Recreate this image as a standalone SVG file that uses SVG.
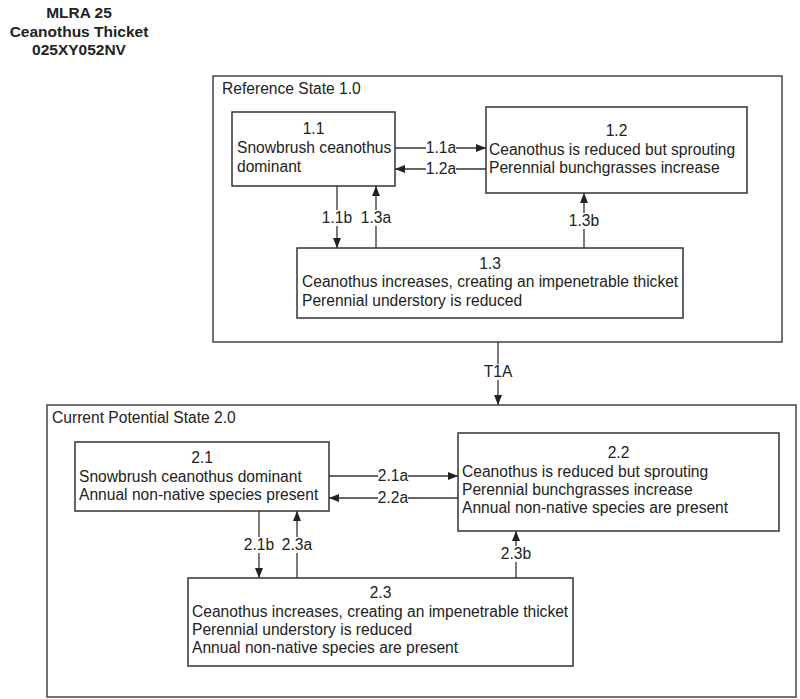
<svg xmlns="http://www.w3.org/2000/svg" width="800" height="699" viewBox="0 0 800 699">
<style>
text{font-family:"Liberation Sans",Arial,sans-serif;font-size:15.6px;fill:#222}
.title{font-weight:bold;text-anchor:middle;font-size:15.5px}
.c{text-anchor:middle}
.box{fill:#fff;stroke:#333;stroke-width:1.5}
.state{fill:none;stroke:#444;stroke-width:1.5}
.ln{stroke:#333;stroke-width:1.3;fill:none}
.lbl{text-anchor:middle}
.bg{fill:#fff}
</style>
<defs>
<marker id="ah" markerUnits="userSpaceOnUse" markerWidth="11" markerHeight="9" refX="10" refY="4" orient="auto">
<path d="M0,0 L10,4 L0,8 z" fill="#222"/>
</marker>
</defs>
<rect width="800" height="699" fill="#fff"/>
<g id="title">
<text class="title" x="79" y="18">MLRA 25</text>
<text class="title" x="79" y="37">Ceanothus Thicket</text>
<text class="title" x="79" y="55">025XY052NV</text>
</g>
<g id="state1">
<rect class="state" x="213" y="76" width="569" height="266"/>
<text x="222" y="94">Reference State 1.0</text>
</g>
<g id="state2">
<rect class="state" x="47" y="405" width="749" height="292"/>
<text x="52" y="423">Current Potential State 2.0</text>
</g>
<g id="connectors">
<line class="ln" x1="395" y1="148" x2="486" y2="148" marker-end="url(#ah)"/>
<line class="ln" x1="486" y1="169" x2="395" y2="169" marker-end="url(#ah)"/>
<line class="ln" x1="337" y1="186" x2="337" y2="248" marker-end="url(#ah)"/>
<line class="ln" x1="376" y1="248" x2="376" y2="186" marker-end="url(#ah)"/>
<line class="ln" x1="584" y1="248" x2="584" y2="193" marker-end="url(#ah)"/>
<line class="ln" x1="498" y1="342" x2="498" y2="405" marker-end="url(#ah)"/>
<line class="ln" x1="329" y1="476" x2="458" y2="476" marker-end="url(#ah)"/>
<line class="ln" x1="458" y1="498" x2="329" y2="498" marker-end="url(#ah)"/>
<line class="ln" x1="259" y1="511" x2="259" y2="578" marker-end="url(#ah)"/>
<line class="ln" x1="297" y1="578" x2="297" y2="511" marker-end="url(#ah)"/>
<line class="ln" x1="516" y1="578" x2="516" y2="531" marker-end="url(#ah)"/>
<rect class="bg" x="426" y="141" width="30" height="14"/>
<rect class="bg" x="426" y="162" width="30" height="14"/>
<rect class="bg" x="322" y="210" width="30" height="16"/>
<rect class="bg" x="361" y="210" width="30" height="16"/>
<rect class="bg" x="569" y="213" width="30" height="16"/>
<rect class="bg" x="484" y="364" width="28" height="16"/>
<rect class="bg" x="378" y="469" width="30" height="14"/>
<rect class="bg" x="378" y="491" width="30" height="14"/>
<rect class="bg" x="244" y="537" width="30" height="16"/>
<rect class="bg" x="282" y="537" width="30" height="16"/>
<rect class="bg" x="501" y="546" width="30" height="16"/>
<text class="lbl" x="441" y="153">1.1a</text>
<text class="lbl" x="441" y="174">1.2a</text>
<text class="lbl" x="337" y="223">1.1b</text>
<text class="lbl" x="376" y="223">1.3a</text>
<text class="lbl" x="584" y="226">1.3b</text>
<text class="lbl" x="498" y="377">T1A</text>
<text class="lbl" x="393" y="481">2.1a</text>
<text class="lbl" x="393" y="503">2.2a</text>
<text class="lbl" x="259" y="550">2.1b</text>
<text class="lbl" x="297" y="550">2.3a</text>
<text class="lbl" x="516" y="559">2.3b</text>
</g>
<g id="n11">
<rect class="box" x="232" y="112" width="163" height="74"/>
<text class="c" x="313.5" y="134">1.1</text>
<text x="237" y="153">Snowbrush ceanothus</text>
<text x="237" y="172">dominant</text>
</g>
<g id="n12">
<rect class="box" x="486" y="107" width="261" height="86"/>
<text class="c" x="616.5" y="136">1.2</text>
<text x="489" y="155">Ceanothus is reduced but sprouting</text>
<text x="489" y="173">Perennial bunchgrasses increase</text>
</g>
<g id="n13">
<rect class="box" x="297" y="248" width="386" height="70"/>
<text class="c" x="490" y="269">1.3</text>
<text x="302" y="287">Ceanothus increases, creating an impenetrable thicket</text>
<text x="302" y="306">Perennial understory is reduced</text>
</g>
<g id="n21">
<rect class="box" x="75" y="442" width="254" height="69"/>
<text class="c" x="202" y="463">2.1</text>
<text x="79" y="482">Snowbrush ceanothus dominant</text>
<text x="79" y="500">Annual non-native species present</text>
</g>
<g id="n22">
<rect class="box" x="458" y="433" width="321" height="98"/>
<text class="c" x="618.5" y="458">2.2</text>
<text x="462" y="477">Ceanothus is reduced but sprouting</text>
<text x="462" y="495">Perennial bunchgrasses increase</text>
<text x="462" y="513">Annual non-native species are present</text>
</g>
<g id="n23">
<rect class="box" x="188" y="578" width="385" height="88"/>
<text class="c" x="380.5" y="598">2.3</text>
<text x="192" y="617">Ceanothus increases, creating an impenetrable thicket</text>
<text x="192" y="635">Perennial understory is reduced</text>
<text x="192" y="653">Annual non-native species are present</text>
</g>
</svg>
